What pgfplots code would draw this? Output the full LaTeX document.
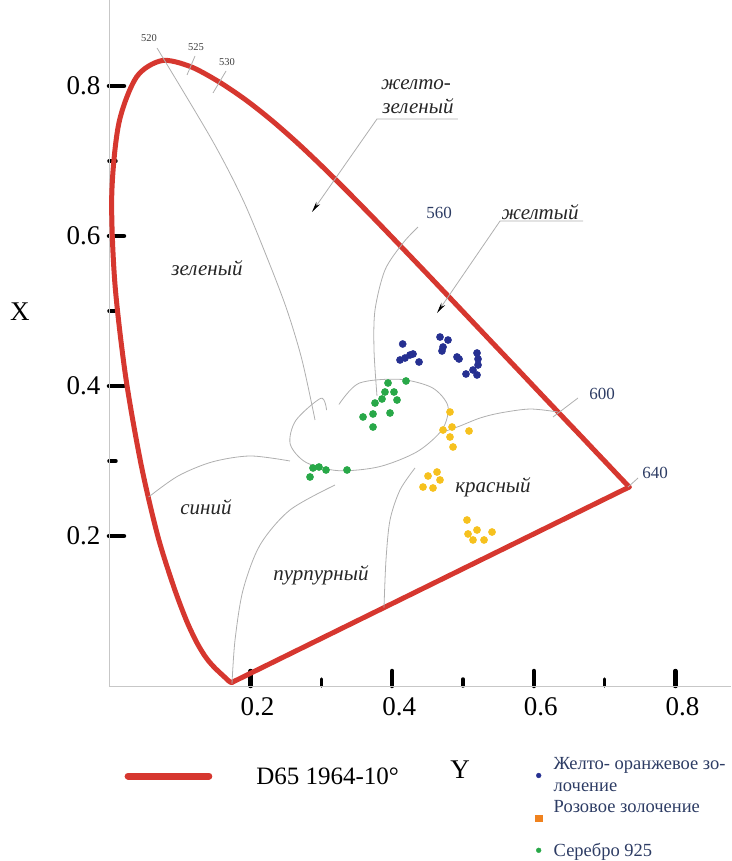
\documentclass[border=0pt]{standalone}
\usepackage{pgfplots}
\pgfplotsset{compat=1.18}
\usepackage{pgfplotstable}
\usepackage{fontspec}
\setmainfont{Liberation Serif}
\usetikzlibrary{arrows.meta}
\definecolor{cred}{RGB}{214,55,47}
\definecolor{cblue}{RGB}{38,48,145}
\definecolor{cgreen}{RGB}{40,168,72}
\definecolor{cyellow}{RGB}{246,193,30}
\definecolor{corange}{RGB}{240,130,30}
\definecolor{cwl}{RGB}{45,60,100}
\definecolor{cline}{RGB}{175,175,175}

\pgfplotstableread{
x y
0.4148 0.4560
0.4110 0.4347
0.4181 0.4373
0.4251 0.4413
0.4294 0.4427
0.4379 0.4320
0.4675 0.4653
0.4788 0.4613
0.4718 0.4520
0.4703 0.4467
0.4915 0.4387
0.4944 0.4360
0.5198 0.4440
0.5212 0.4360
0.5212 0.4280
0.5141 0.4213
0.5042 0.4160
0.5198 0.4147
}\bluedata

\pgfplotstableread{
x y
0.4195 0.4067
0.3941 0.4040
0.3898 0.3920
0.4025 0.3920
0.4068 0.3813
0.3856 0.3827
0.3757 0.3773
0.3969 0.3640
0.3729 0.3627
0.3588 0.3587
0.3729 0.3453
0.2881 0.2907
0.2839 0.2787
0.2966 0.2920
0.3065 0.2880
0.3362 0.2880
}\greendata

\pgfplotstableread{
x y
0.4816 0.3653
0.4718 0.3413
0.4845 0.3453
0.4816 0.3320
0.4859 0.3187
0.5085 0.3400
0.4506 0.2800
0.4633 0.2853
0.4675 0.2747
0.4435 0.2653
0.4576 0.2640
0.5056 0.2213
0.5198 0.2080
0.5071 0.2027
0.5141 0.1947
0.5297 0.1947
0.5410 0.2053
}\yellowdata

\begin{document}
\begin{tikzpicture}
\begin{axis}[
 at={(0,0)}, anchor=south west,
 scale only axis, width=622pt, height=686pt,
 xmin=0, xmax=0.8785, ymin=0, ymax=0.91467,
 axis x line=bottom, axis y line=left,
 axis line style={-, draw=black!22, line width=0.8pt},
 clip=false,
 xtick={0.2,0.4,0.6,0.8}, ytick={0.2,0.4,0.6,0.8},
 minor xtick={0.3,0.5,0.7}, minor ytick={0.3,0.5,0.7},
 tick align=inside,
 major tick length=15pt, minor tick length=7pt,
 major tick style={black, line width=4.5pt, line cap=round},
 minor tick style={black, line width=3.5pt, line cap=round},
 /pgf/number format/assume math mode=true,
 ticklabel style={font=\fontsize{27}{30}\selectfont},
 xticklabel style={yshift=-8pt, xshift=7pt},
 yticklabel style={xshift=-5pt},
 legend cell align=left,
 legend image code/.code={\path[draw=none, fill=none] (0pt,-3pt) rectangle (20pt,3pt); \draw[#1] plot coordinates {(7pt,0pt)};},
 legend style={draw=none, fill=none, at={(axis cs:0.5925,-0.090)}, anchor=north west,
   font=\fontsize{18.5}{22}\selectfont, text=cwl, cells={align=left}, row sep=3pt},
]
% spectral locus
\addplot[cred, line width=5pt, line join=round, line cap=round, smooth, tension=0.5, forget plot] coordinates {
(0.1741,0.0050)(0.1738,0.0049)(0.1733,0.0048)(0.1726,0.0048)(0.1714,0.0051)
(0.1689,0.0069)(0.1644,0.0109)(0.1566,0.0177)(0.1510,0.0227)(0.1440,0.0297)
(0.1355,0.0399)(0.1241,0.0578)(0.1096,0.0868)(0.0913,0.1327)(0.0687,0.2007)
(0.0454,0.2950)(0.0235,0.4127)(0.0082,0.5384)(0.0039,0.6548)(0.0139,0.7502)
(0.0389,0.8120)(0.0743,0.8338)(0.1142,0.8262)(0.1547,0.8059)(0.1929,0.7816)
(0.2296,0.7543)(0.2658,0.7243)(0.3016,0.6923)(0.3373,0.6589)(0.3731,0.6245)
(0.4087,0.5896)(0.4441,0.5547)(0.4788,0.5202)(0.5125,0.4866)(0.5448,0.4544)
(0.5752,0.4242)(0.6029,0.3965)(0.6270,0.3725)(0.6482,0.3514)(0.6658,0.3340)
(0.6801,0.3197)(0.6915,0.3083)(0.7006,0.2993)(0.7079,0.2920)(0.7140,0.2859)
(0.7190,0.2809)(0.7230,0.2770)(0.7260,0.2740)(0.7300,0.2700)(0.7320,0.2680)
(0.7334,0.2666)(0.7347,0.2653)};
\addplot[cred, line width=5pt, line cap=round, forget plot] coordinates {(0.7347,0.2653)(0.1741,0.0050)};

% region boundaries
\addplot[cline, line width=0.8pt, smooth, forget plot] coordinates {
(0.0678,0.8507)(0.1455,0.7280)(0.1893,0.6480)(0.2246,0.5680)(0.2514,0.5013)(0.2726,0.4347)(0.2910,0.3547)};
\addplot[cline, line width=0.8pt, smooth, forget plot] coordinates {
(0.4364,0.6120)(0.4153,0.5907)(0.3898,0.5547)(0.3757,0.5013)(0.3743,0.4480)(0.3785,0.3867)};
\addplot[cline, line width=0.8pt, smooth, forget plot] coordinates {
(0.6342,0.3653)(0.5946,0.3693)(0.5523,0.3640)(0.5240,0.3573)(0.4958,0.3467)(0.4760,0.3400)};
\addplot[cline, line width=0.8pt, smooth, forget plot] coordinates {
(0.0560,0.2520)(0.0975,0.2800)(0.1455,0.2987)(0.1992,0.3067)(0.2556,0.3000)};
\addplot[cline, line width=0.8pt, smooth, forget plot] coordinates {
(0.3192,0.2680)(0.2556,0.2347)(0.2133,0.1880)(0.1893,0.1280)(0.1780,0.0613)(0.1737,0.0030)};
\addplot[cline, line width=0.8pt, smooth, forget plot] coordinates {
(0.4322,0.2907)(0.4110,0.2613)(0.3969,0.2213)(0.3912,0.1680)(0.3884,0.1045)};
% ellipse
\addplot[cline, line width=0.8pt, smooth, forget plot] coordinates {
(0.3247,0.3753)(0.3531,0.4037)(0.4106,0.4089)(0.4565,0.3977)(0.4787,0.3732)(0.4706,0.3420)
(0.4352,0.3124)(0.3814,0.2923)(0.3239,0.2871)(0.2780,0.2983)(0.2559,0.3228)(0.2638,0.3540)
(0.2993,0.3836)(0.3073,0.3679)};
% wavelength ticks
\addplot[cline, line width=0.8pt, forget plot] coordinates {(0.1215,0.8400)(0.1102,0.8147)};
\addplot[cline, line width=0.8pt, forget plot] coordinates {(0.1653,0.8200)(0.1469,0.7907)};
\addplot[cline, line width=0.8pt, forget plot] coordinates {(0.6271,0.3587)(0.6624,0.3840)};
\addplot[cline, line width=0.8pt, forget plot] coordinates {(0.7330,0.2653)(0.7472,0.2773)};

% data points
\addplot[only marks, mark=*, mark size=3.6pt, cblue, forget plot] table {\bluedata};
\addplot[only marks, mark=*, mark size=3.6pt, cgreen, forget plot] table {\greendata};
\addplot[only marks, mark=*, mark size=3.6pt, cyellow, forget plot] table {\yellowdata};

% legend
\addlegendimage{only marks, mark=*, mark size=2.4pt, cblue}
\addlegendentry{Желто- оранжевое зо-\\лочение}
\addlegendimage{only marks, mark=square*, mark size=3.2pt, corange}
\addlegendentry{Розовое золочение\\\strut}
\addlegendimage{only marks, mark=*, mark size=2.4pt, cgreen}
\addlegendentry{Серебро 925}

% leader lines
\draw[cline, line width=0.8pt, -{Stealth[black, length=11pt, width=4.5pt]}]
  (axis cs:0.4929,0.756) -- (axis cs:0.3785,0.756) -- (axis cs:0.2867,0.632);
\draw[cline, line width=0.8pt, -{Stealth[black, length=11pt, width=4.5pt]}]
  (axis cs:0.6695,0.620) -- (axis cs:0.5523,0.620) -- (axis cs:0.4633,0.4973);

% wavelength labels
\node[font=\fontsize{10.5}{12}\selectfont, text=black!75] at (axis cs:0.0565,0.864) {520};
\node[font=\fontsize{10.5}{12}\selectfont, text=black!75] at (axis cs:0.1229,0.852) {525};
\node[font=\fontsize{10.5}{12}\selectfont, text=black!75] at (axis cs:0.1667,0.832) {530};
\node[font=\fontsize{17}{20}\selectfont, text=cwl] at (axis cs:0.4661,0.6307) {560};
\node[font=\fontsize{17}{20}\selectfont, text=cwl] at (axis cs:0.6963,0.3893) {600};
\node[font=\fontsize{17}{20}\selectfont, text=cwl] at (axis cs:0.7712,0.2840) {640};

% region names
\begin{scope}[every node/.style={font=\fontsize{21}{24}\selectfont\itshape, text=black!85}]
\node at (axis cs:0.4336,0.8013) {желто-};
\node at (axis cs:0.4364,0.7733) {зеленый};
\node at (axis cs:0.6088,0.6320) {желтый};
\node at (axis cs:0.1384,0.5573) {зеленый};
\node at (axis cs:0.1370,0.2387) {синий};
\node at (axis cs:0.2994,0.1480) {пурпурный};
\node at (axis cs:0.5424,0.2653) {красный};
\end{scope}

% axis labels
\node[font=\fontsize{27}{30}\selectfont] at (axis cs:-0.1257,0.4987) {X};
\node[font=\fontsize{27}{30}\selectfont] at (axis cs:0.4958,-0.112) {Y};

% D65 legend
\draw[cred, line width=7pt, line cap=round] (axis cs:0.027,-0.12) -- (axis cs:0.141,-0.12);
\node[font=\fontsize{25}{28}\selectfont, anchor=west] at (axis cs:0.2030,-0.12) {D65 1964-10°};
\end{axis}
\pgfresetboundingbox
\path[use as bounding box] (-109pt,-175pt) rectangle (622pt,686pt);
\end{tikzpicture}
\end{document}
